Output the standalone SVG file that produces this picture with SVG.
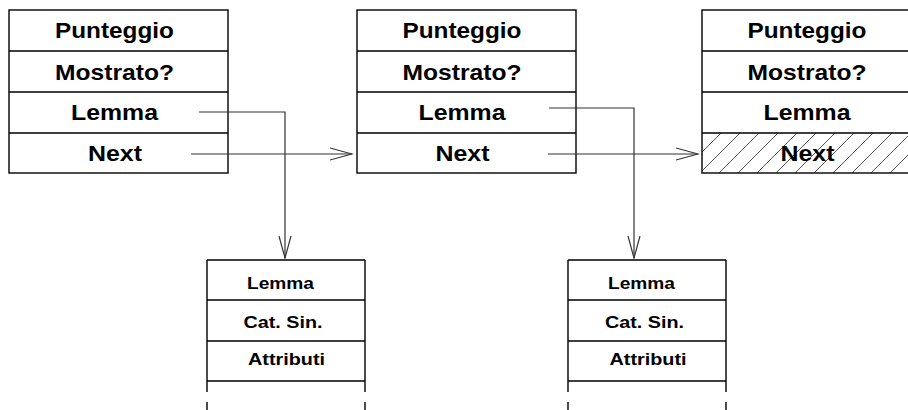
<svg xmlns="http://www.w3.org/2000/svg" width="908" height="410" viewBox="0 0 908 410">
<defs>
<style>
.box{fill:none;stroke:#000;stroke-width:1.4}
.t{font-family:"Liberation Sans",Arial,sans-serif;font-weight:bold;font-size:22px;fill:#000;text-anchor:middle}
.s{font-family:"Liberation Sans",Arial,sans-serif;font-weight:bold;font-size:17px;fill:#000;text-anchor:middle}
.c{fill:none;stroke:#333;stroke-width:1.2}
</style>
<pattern id="hatch" patternUnits="userSpaceOnUse" width="19" height="19" x="702" y="133">
<path d="M0,19 L19,0 M-5,5 L5,-5 M14,24 L24,14" stroke="#555" stroke-width="1"/>
</pattern>
<marker id="ah" markerWidth="24" markerHeight="14" refX="22" refY="7" orient="auto" markerUnits="userSpaceOnUse">
<path d="M0,1 L22,7 L0,13" fill="none" stroke="#333" stroke-width="1.2"/>
</marker>
</defs>
<g id="node1">
<rect class="box" x="9" y="10" width="219" height="163"/>
<path class="box" d="M9,51H228M9,92H228M9,133H228"/>
<text class="t" x="114.5" y="38" textLength="119" lengthAdjust="spacingAndGlyphs">Punteggio</text>
<text class="t" x="114.5" y="80" textLength="119" lengthAdjust="spacingAndGlyphs">Mostrato?</text>
<text class="t" x="114.5" y="120" textLength="87" lengthAdjust="spacingAndGlyphs">Lemma</text>
<text class="t" x="115" y="161" textLength="54" lengthAdjust="spacingAndGlyphs">Next</text>
</g>
<g id="node2">
<rect class="box" x="357" y="10" width="219" height="163"/>
<path class="box" d="M357,51H576M357,92H576M357,133H576"/>
<text class="t" x="462" y="38" textLength="119" lengthAdjust="spacingAndGlyphs">Punteggio</text>
<text class="t" x="462" y="80" textLength="119" lengthAdjust="spacingAndGlyphs">Mostrato?</text>
<text class="t" x="462" y="120" textLength="87" lengthAdjust="spacingAndGlyphs">Lemma</text>
<text class="t" x="462.5" y="161" textLength="54" lengthAdjust="spacingAndGlyphs">Next</text>
</g>
<g id="node3">
<rect x="702" y="133" width="219" height="40" fill="url(#hatch)"/>
<rect class="box" x="702" y="10" width="219" height="163"/>
<path class="box" d="M702,51H921M702,92H921M702,133H921"/>
<text class="t" x="807" y="38" textLength="119" lengthAdjust="spacingAndGlyphs">Punteggio</text>
<text class="t" x="807" y="80" textLength="119" lengthAdjust="spacingAndGlyphs">Mostrato?</text>
<text class="t" x="807" y="120" textLength="87" lengthAdjust="spacingAndGlyphs">Lemma</text>
<text class="t" x="807.5" y="161" textLength="54" lengthAdjust="spacingAndGlyphs">Next</text>
</g>
<g id="lemma1">
<path class="box" d="M207,260H365M207,300H365M207,341H365M207,381H365M207,260V392M365,260V392M207,402V410M365,402V410"/>
<text class="s" x="280.5" y="289" textLength="67" lengthAdjust="spacingAndGlyphs">Lemma</text>
<text class="s" x="283" y="328" textLength="79" lengthAdjust="spacingAndGlyphs">Cat. Sin.</text>
<text class="s" x="286.5" y="365" textLength="77" lengthAdjust="spacingAndGlyphs">Attributi</text>
</g>
<g id="lemma2">
<path class="box" d="M568,260H726M568,300H726M568,341H726M568,381H726M568,260V392M726,260V392M568,402V410M726,402V410"/>
<text class="s" x="641.5" y="289" textLength="67" lengthAdjust="spacingAndGlyphs">Lemma</text>
<text class="s" x="644.5" y="328" textLength="79" lengthAdjust="spacingAndGlyphs">Cat. Sin.</text>
<text class="s" x="648" y="365" textLength="77" lengthAdjust="spacingAndGlyphs">Attributi</text>
</g>
<g id="connectors">
<path class="c" d="M199,112H285V258" marker-end="url(#ah)"/>
<path class="c" d="M191,154H352" marker-end="url(#ah)"/>
<path class="c" d="M549,108H634V258" marker-end="url(#ah)"/>
<path class="c" d="M548,154H698" marker-end="url(#ah)"/>
</g>
</svg>
